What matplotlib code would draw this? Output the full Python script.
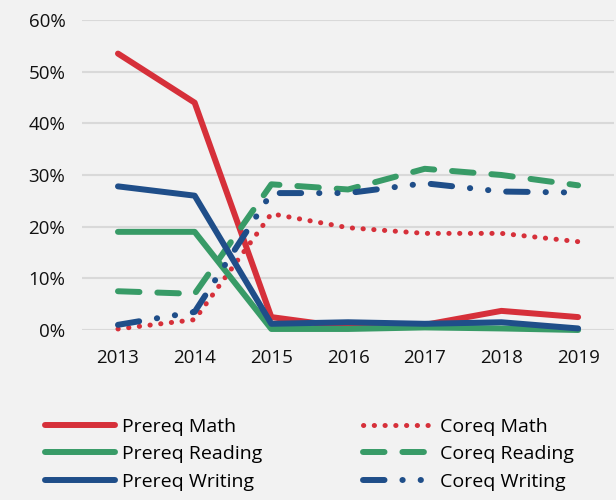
import matplotlib.pyplot as plt
from matplotlib.ticker import PercentFormatter

years = ['2013', '2014', '2015', '2016', '2017', '2018', '2019']

prereq_math = [53.5, 44.0, 2.5, 0.5, 1.0, 3.7, 2.5]
prereq_reading = [19.0, 19.0, 0.2, 0.2, 0.5, 0.3, 0.0]
prereq_writing = [27.8, 26.0, 1.2, 1.5, 1.2, 1.5, 0.3]
coreq_math = [0.2, 2.0, 22.5, 19.8, 18.7, 18.7, 17.1]
coreq_reading = [7.5, 7.0, 28.2, 27.2, 31.2, 30.0, 28.0]
coreq_writing = [1.0, 3.5, 26.5, 26.5, 28.4, 26.8, 26.6]

red = '#D6303A'
green = '#389B67'
blue = '#1F4E89'
bg = '#F2F2F2'

plt.rcParams['font.family'] = ['Open Sans', 'DejaVu Sans']

fig = plt.figure(figsize=(6.16, 5.0), dpi=100, facecolor=bg)
ax = fig.add_axes([0.133, 0.34, 0.864, 0.62], facecolor=bg)

x = list(range(len(years)))
lw = 4.3
ax.plot(x, prereq_math, color=red, lw=lw, label='Prereq Math', solid_capstyle='round', clip_on=False, zorder=3)
ax.plot(x, coreq_math, color=red, lw=3.6, label='Coreq Math', linestyle=(0, (0.05, 2.1)),
        dash_capstyle='round', clip_on=False, zorder=3)
ax.plot(x, prereq_reading, color=green, lw=lw, label='Prereq Reading', solid_capstyle='round', clip_on=False, zorder=3)
ax.plot(x, coreq_reading, color=green, lw=lw, label='Coreq Reading', linestyle=(0, (3.6, 3.0)),
        dash_capstyle='round', clip_on=False, zorder=3)
ax.plot(x, prereq_writing, color=blue, lw=lw, label='Prereq Writing', solid_capstyle='round', clip_on=False, zorder=3)
ax.plot(x, coreq_writing, color=blue, lw=lw, label='Coreq Writing', linestyle=(0, (3.6, 3.0, 0.05, 3.0, 0.05, 3.0)),
        dash_capstyle='round', clip_on=False, zorder=3)

ax.set_xlim(-0.47, 6.47)
ax.set_ylim(0, 60)
ax.set_xticks(x)
ax.set_xticklabels(years)
ax.set_yticks(range(0, 61, 10))
ax.yaxis.set_major_formatter(PercentFormatter(decimals=0))
ax.tick_params(length=0, labelsize=13.5, colors='#111111')
ax.tick_params(axis='x', pad=14)
ax.tick_params(axis='y', pad=12)
ax.grid(axis='y', color='#D9D9D9', lw=1.5)
ax.set_axisbelow(True)
for s in ax.spines.values():
    s.set_visible(False)

handles, labels = ax.get_legend_handles_labels()
# Prereq in the first column, Coreq in the second
order = [0, 2, 4, 1, 3, 5]
fig.legend([handles[i] for i in order], [labels[i] for i in order],
           loc='upper left', bbox_to_anchor=(0.045, 0.2), ncol=2, frameon=False,
           fontsize=14, handlelength=3.6, handletextpad=0.35, columnspacing=5.2,
           labelspacing=0.5)

fig.savefig('out.png', dpi=100, facecolor=bg)
